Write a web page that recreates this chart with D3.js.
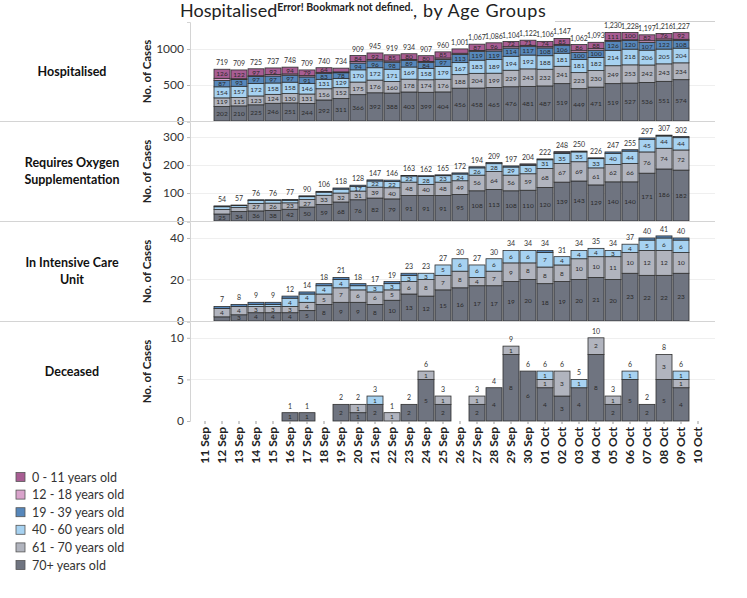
<!DOCTYPE html>
<html><head><meta charset="utf-8">
<script src="https://cdn.jsdelivr.net/npm/d3@7"></script>
<style>body{margin:0;background:#fff;font-family:Lato,"Noto Sans",sans-serif}</style>
</head><body>
<svg id="c" width="747" height="598"></svg>
<script>
// ---- categories ----
const dates = ["11 Sep","12 Sep","13 Sep","14 Sep","15 Sep","16 Sep","17 Sep","18 Sep","19 Sep","20 Sep",
  "21 Sep","22 Sep","23 Sep","24 Sep","25 Sep","26 Sep","27 Sep","28 Sep","29 Sep","30 Sep",
  "01 Oct","02 Oct","03 Oct","04 Oct","05 Oct","06 Oct","07 Oct","08 Oct","09 Oct","10 Oct"];
const barDates = dates.slice(1, 29); // 12 Sep .. 09 Oct
const ageGroups = ["0 - 11 years old","12 - 18 years old","19 - 39 years old","40 - 60 years old","61 - 70 years old","70+ years old"];

// ---- Hospitalised ----
const hospA70 = [202,210,225,246,251,244,292,311,366,392,388,403,399,404,456,458,465,476,481,487,519,449,471,519,527,536,551,574];
const hospA61 = [119,115,123,124,130,131,156,152,175,176,160,178,174,176,188,204,199,229,243,232,241,223,230,249,253,242,243,234];
const hospA40 = [154,157,172,158,158,146,131,129,170,172,171,169,158,179,167,183,189,194,192,188,181,181,182,214,218,206,205,204];
const hospA19 = [87,93,97,97,97,91,83,78,94,96,98,89,84,97,113,119,119,114,117,108,106,100,100,126,120,107,122,108];
const hospA12 = [31,12,11,20,18,18,14,12,20,17,17,15,12,19,17,16,18,19,18,17,15,23,22,11,10,24,19,15];
const hospA0  = [126,122,97,92,94,79,64,52,84,92,85,80,80,85,60,87,96,72,71,74,85,86,88,111,100,82,76,92];

// ---- Requires Oxygen Supplementation ----
const oxyA70 = [25,34,36,38,42,50,59,68,76,82,79,91,91,91,95,108,113,108,110,120,139,143,129,140,140,171,186,182];
const oxyA61 = [16,14,27,26,23,27,33,32,31,39,40,48,40,48,49,56,64,56,59,68,67,69,61,62,66,76,74,72];
const oxyA40 = [10,7,10,9,9,10,11,14,17,22,22,22,28,23,24,26,28,29,30,31,35,35,33,40,44,45,44,44];
const oxyA19 = [3,2,3,3,3,3,3,4,4,4,5,2,3,3,4,4,4,4,4,3,5,3,3,5,5,5,3,4];
const oxyA12 = [0,0,0,0,0,0,0,0,0,0,0,0,0,0,0,0,0,0,1,0,2,0,0,0,0,0,0,0];
const oxyA0  = [0,0,0,0,0,0,0,0,0,0,0,0,0,0,0,0,0,0,0,0,0,0,0,0,0,0,0,0];

// ---- In Intensive Care Unit ----
const icuA70 = [2,3,4,4,4,5,8,9,9,8,10,13,12,15,16,17,17,19,20,18,19,20,21,20,23,22,22,23];
const icuA61 = [4,4,3,3,3,4,5,7,6,6,5,6,8,7,8,4,7,9,8,8,8,10,10,11,10,12,12,10];
const icuA40 = [0,0,1,1,4,4,4,4,2,3,3,3,3,5,6,6,6,6,6,7,4,4,4,3,4,5,6,6];
const icuA19 = [1,1,1,1,1,1,1,1,1,0,1,1,0,0,0,0,0,0,0,1,0,0,0,0,0,1,1,1];
const icuA12 = [0,0,0,0,0,0,0,0,0,0,0,0,0,0,0,0,0,0,0,0,0,0,0,0,0,0,0,0];
const icuA0  = [0,0,0,0,0,0,0,0,0,0,0,0,0,0,0,0,0,0,0,0,0,0,0,0,0,0,0,0];

// ---- Deceased ----
const decA70 = [0,0,0,0,1,1,0,2,1,2,0,2,5,2,0,2,4,8,6,4,3,4,8,2,5,2,5,4];
const decA61 = [0,0,0,0,0,0,0,0,1,0,1,0,1,1,0,1,0,1,0,1,3,0,2,1,0,0,3,1];
const decA40 = [0,0,0,0,0,0,0,0,0,1,0,0,0,0,0,0,0,0,0,1,0,1,0,0,1,0,0,1];
const decA19 = [0,0,0,0,0,0,0,0,0,0,0,0,0,0,0,0,0,0,0,0,0,0,0,0,0,0,0,0];
const decA12 = [0,0,0,0,0,0,0,0,0,0,0,0,0,0,0,0,0,0,0,0,0,0,0,0,0,0,0,0];
const decA0  = [0,0,0,0,0,0,0,0,0,0,0,0,0,0,0,0,0,0,0,0,0,0,0,0,0,0,0,0];

const hospTicks = [0,500,1000], oxyTicks=[0,100,200,300], icuTicks=[0,20,40], decTicks=[0,5,10];

// ---- styles ----
const keys = ["a70","a61","a40","a19","a12","a0"]; // bottom -> top
const colors = {a0:"#a85d93", a12:"#d9a3cb", a19:"#5687bb", a40:"#a7d2f1", a61:"#b1b4be", a70:"#6f7480"};
const legendKeys = ["a0","a12","a19","a40","a61","a70"];

function rows(a70,a61,a40,a19,a12,a0){
  return barDates.map((d,i)=>({date:d,a70:a70[i],a61:a61[i],a40:a40[i],a19:a19[i],a12:a12[i],a0:a0[i]}));
}
const panels = [
  {label:["Hospitalised"], top:22, max:1375, ticks:hospTicks, data:rows(hospA70,hospA61,hospA40,hospA19,hospA12,hospA0)},
  {label:["Requires Oxygen","Supplementation"], top:122, max:354, ticks:oxyTicks, data:rows(oxyA70,oxyA61,oxyA40,oxyA19,oxyA12,oxyA0)},
  {label:["In Intensive Care","Unit"], top:222, max:47.7, ticks:icuTicks, data:rows(icuA70,icuA61,icuA40,icuA19,icuA12,icuA0)},
  {label:["Deceased"], top:322, max:11.9, ticks:decTicks, data:rows(decA70,decA61,decA40,decA19,decA12,decA0)}
];

const svg = d3.select("#c");
const PH = 99, axisX = 190, rightX = 715;
const x = d3.scaleBand().domain(dates).range([196.5, 706.5]).paddingInner(0).paddingOuter(0);
const fmt = d3.format(",");

// title
const title = svg.append("text").attr("x",180).attr("y",17).attr("fill","#222").style("font-size","18px");
title.append("tspan").text("Hospitalised");
title.append("tspan").attr("dy",-6).style("font-size","10.5px").style("font-weight","bold").text("Error! Bookmark not defined.");
title.append("tspan").attr("dy",6).style("letter-spacing","0.6px").text(", by Age Groups");
svg.append("line").attr("x1",555).attr("x2",rightX).attr("y1",21.5).attr("y2",21.5).attr("stroke","#d0d0d0");

panels.forEach((p,pi)=>{
  const g = svg.append("g");
  const y = d3.scaleLinear().domain([0,p.max]).range([p.top+PH, p.top]);
  // gridlines
  g.selectAll(".grid").data(p.ticks.filter(t=>t>0)).join("line")
    .attr("x1",axisX).attr("x2",rightX).attr("y1",d=>Math.round(y(d))+0.5).attr("y2",d=>Math.round(y(d))+0.5)
    .attr("stroke","#efefef");
  // separator
  if (pi>0) svg.append("line").attr("x1",0).attr("x2",rightX).attr("y1",p.top-0.5).attr("y2",p.top-0.5).attr("stroke","#d4d4d4");
  // y axis
  const ax = g.append("g").attr("transform",`translate(${axisX},0)`)
    .call(d3.axisLeft(y).tickValues(p.ticks).tickSize(3).tickFormat(d3.format("d")));
  ax.select(".domain").attr("stroke","#d4d4d4");
  ax.selectAll(".tick line").attr("stroke","#bbb");
  ax.selectAll("text").attr("fill","#333").style("font-size","12px").style("font-family","Lato,'Noto Sans',sans-serif");
  // axis title
  g.append("text").attr("transform",`translate(151,${p.top+PH/2}) rotate(-90)`).attr("text-anchor","middle")
    .attr("fill","#222").style("font-size","11.5px").style("font-weight","bold").text("No. of Cases");
  // row label
  const n = p.label.length;
  p.label.forEach((l,li)=>{
    g.append("text").attr("x",72).attr("y",p.top+PH/2+4+(li-(n-1)/2)*17).attr("text-anchor","middle")
      .attr("fill","#111").style("font-size","12.5px").style("font-weight","bold").text(l);
  });
  // stacks
  const series = d3.stack().keys(keys)(p.data);
  series.forEach(s=>{
    const sg = g.append("g");
    s.forEach(d=>{
      const v = d[1]-d[0];
      if (v<=0) return;
      const x0 = x(d.data.date), w = x.bandwidth();
      const y0 = y(d[1]), h = y(d[0])-y(d[1]);
      sg.append("rect").attr("x",x0+0.5).attr("y",y0).attr("width",w-1).attr("height",h)
        .attr("fill",colors[s.key]).attr("stroke","#2e2e2e").attr("stroke-width",0.8);
      if (h>=4.5) {
        sg.append("text").attr("x",x0+w/2).attr("y",y0+h/2+2.3).attr("text-anchor","middle")
          .attr("fill","#2a2a2a").style("font-size","6.5px").text(v);
      }
    });
  });
  // totals
  p.data.forEach(d=>{
    const t = keys.reduce((a,k)=>a+d[k],0);
    if (t<=0) return;
    g.append("text").attr("x",x(d.date)+x.bandwidth()/2).attr("y",y(t)-4).attr("text-anchor","middle")
      .attr("fill","#333").style("font-size","7px").text(fmt(t));
  });
});

// x axis
const xa = svg.append("g").attr("transform","translate(0,421)")
  .call(d3.axisBottom(x).tickSize(3));
xa.select(".domain").remove();
xa.selectAll(".tick line").attr("stroke","#999");
xa.selectAll("text").attr("transform","rotate(-90)").attr("text-anchor","end")
  .attr("x",-6).attr("y",0).attr("dy","0.35em").attr("fill","#222")
  .style("font-size","12px").style("font-weight","bold").style("font-family","Lato,'Noto Sans',sans-serif");

// legend
const lg = svg.append("g");
legendKeys.forEach((k,i)=>{
  const yy = 477 + i*17.6;
  lg.append("rect").attr("x",16).attr("y",yy-4.5).attr("width",9).attr("height",9)
    .attr("fill",colors[k]).attr("stroke","#555").attr("stroke-width",0.8);
  lg.append("text").attr("x",32).attr("y",yy+4.5).attr("fill","#333").style("font-size","12.5px").text(ageGroups[i]);
});
</script>
</body></html>
